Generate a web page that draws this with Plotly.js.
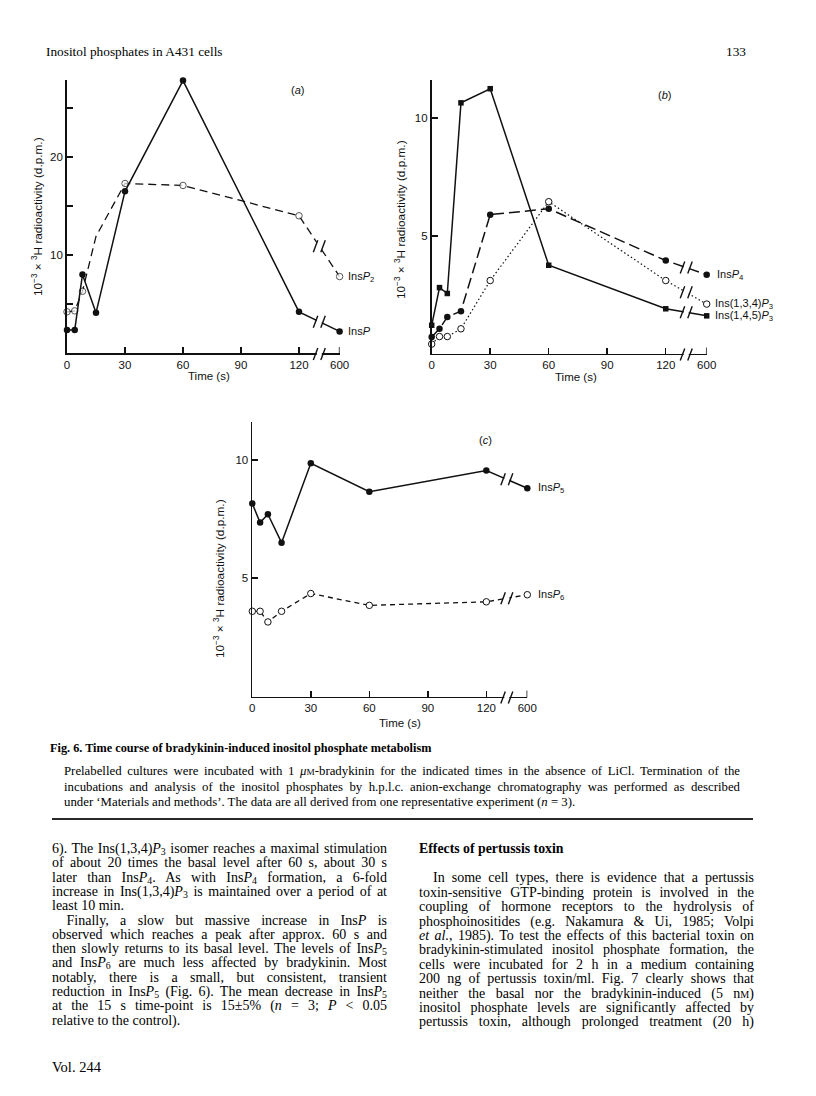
<!DOCTYPE html>
<html>
<head>
<meta charset="utf-8">
<script src="https://cdn.plot.ly/plotly-3.0.1.min.js"></script>
<style>
html,body{margin:0;padding:0;background:#fff;}
#page{position:relative;width:816px;height:1096px;overflow:hidden;font-family:"Liberation Serif","Times New Roman",serif;color:#000;}
#plot{position:absolute;left:0;top:0;width:816px;height:1096px;}
.t{position:absolute;white-space:nowrap;line-height:14px;height:14px;}
.t span{white-space:nowrap;}
sub{font-size:70%;vertical-align:-0.25em;line-height:0;}
.sc{font-size:72%;}
#rule{position:absolute;left:52px;width:701px;top:818px;height:1.6px;background:#2a2a2a;}
</style>
</head>
<body>
<div id="page">
  <div id="plot"></div>
  <div id="rule"></div>
</div>
<script>
// ---------------- data ----------------
const times      = [0, 4, 8, 15, 30, 60, 120, 600];          // s
const tickTimes  = [0, 30, 60, 90, 120, 600];
const tickLabels = ['0', '30', '60', '90', '120', '600'];

// (a)
const insP     = [2.35, 2.35, 8.0, 4.1, 16.5, 27.8, 4.2, 2.2];
const insP2    = [4.2, 4.3, 6.3, 11.9, 17.3, 17.1, 14.0, 7.8];
// (b)
const ins145P3 = [1.2, 2.8, 2.55, 10.65, 11.25, 3.75, 1.9, 1.6];
const insP4    = [0.7, 1.05, 1.55, 1.8, 5.9, 6.15, 3.95, 3.35];
const ins134P3 = [0.4, 0.72, 0.72, 1.05, 3.1, 6.45, 3.1, 2.1];
// (c)
const insP5    = [8.15, 7.35, 7.7, 6.5, 9.85, 8.65, 9.55, 8.8];
const insP6    = [3.6, 3.6, 3.15, 3.6, 4.35, 3.85, 4.0, 4.3];

// ---------------- axis mapping (broken axis 120 // 600) ----------------
const W = 816, H = 1096;
const POS600 = 141, BREAK_POS = 130.5;
function pos(t){ return t <= 120 ? t : POS600; }
const xs = times.map(pos);

const PA = {x0:67,    x1:339.6, top:80,    bottom:353,   ytop:27.86};
const PB = {x0:431.7, x1:706.7, top:80,    bottom:353.5, ytop:11.62};
const PC = {x0:252.3, x1:527.3, top:421.7, bottom:696.5, ytop:11.61};

const INK = '#111';
const SANS = 'Liberation Sans, Arial, sans-serif';

function xa(p, anchor){
  return {domain:[p.x0/W, p.x1/W], range:[0, POS600], anchor:anchor,
    showline:true, linecolor:INK, linewidth:1.8, ticks:'inside', ticklen:6, tickwidth:1.5, tickcolor:INK,
    tickvals:tickTimes.map(pos), ticktext:tickLabels, tickfont:{family:SANS, size:11.5, color:INK},
    showgrid:false, zeroline:false, fixedrange:true};
}
function ya(p, anchor, tv, tt){
  return {domain:[1 - p.bottom/H, 1 - p.top/H], range:[0, p.ytop], anchor:anchor,
    showline:true, linecolor:INK, linewidth:1.8, ticks:'inside', ticklen:6, tickwidth:1.5, tickcolor:INK,
    tickvals:tv, ticktext:tt, tickfont:{family:SANS, size:11.5, color:INK},
    showgrid:false, zeroline:false, fixedrange:true};
}

function filled(y, xr, yr, dash, sym, size){
  return {x:xs, y:y, xaxis:xr, yaxis:yr, type:'scatter', mode:'lines+markers', cliponaxis:false,
    line:{color:INK, width:1.5, dash:dash}, marker:{symbol:sym || 'circle', size:size || 6.5, color:INK}, hoverinfo:'skip'};
}
function open(y, xr, yr, dash, width, sizes){
  return {x:xs, y:y, xaxis:xr, yaxis:yr, type:'scatter', mode:'lines+markers', cliponaxis:false,
    line:{color:INK, width:width, dash:dash},
    marker:{symbol:'circle', size:sizes || 6.5, color:'#fff', line:{color:INK, width:1}}, hoverinfo:'skip'};
}

const traces = [
  open(insP2, 'x', 'y', '8px,5px', 1.3, insP2.map((v,i)=> times[i] === 15 ? 0 : 6.5)),
  filled(insP, 'x', 'y', 'solid'),
  filled(ins145P3, 'x2', 'y2', 'solid', 'square', 5.5),
  filled(insP4, 'x2', 'y2', '11px,5px'),
  open(ins134P3, 'x2', 'y2', '1.5px,2.5px', 1.2),
  filled(insP5, 'x3', 'y3', 'solid'),
  open(insP6, 'x3', 'y3', '5px,4px', 1.3)
];

// inside tick at the 600 end of each x axis (the axis' own tick there falls on the range edge)
function endTick(xr, p){
  const yb = 1 - (p.bottom + 0.9) / H, yt = 1 - (p.bottom - 6) / H;
  return {type:'line', xref:xr, yref:'paper', x0:POS600, x1:POS600, y0:yb, y1:yt, line:{color:INK, width:1.5}};
}
// break marks
function brk(xr, yr, yv){
  const base = {xref:xr, yref:yr, xsizemode:'pixel', ysizemode:'pixel', xanchor:BREAK_POS, yanchor:yv};
  return [
    Object.assign({type:'rect', x0:-2.5, x1:2.5, y0:-5, y1:5, fillcolor:'#fff', line:{width:0}}, base),
    Object.assign({type:'line', x0:-6, x1:-1.5, y0:-6, y1:6, line:{color:INK, width:1.4}}, base),
    Object.assign({type:'line', x0:1.5, x1:6, y0:-6, y1:6, line:{color:INK, width:1.4}}, base)
  ];
}
function brkAxis(xr, p){
  const yv = 1 - (p.bottom + 0.9) / H;
  const base = {xref:xr, yref:'paper', xsizemode:'pixel', ysizemode:'pixel', xanchor:BREAK_POS, yanchor:yv};
  return [
    Object.assign({type:'rect', x0:-2.5, x1:2.5, y0:-3, y1:3, fillcolor:'#fff', line:{width:0}}, base),
    Object.assign({type:'line', x0:-6, x1:-1.5, y0:-6, y1:6, line:{color:INK, width:1.4}}, base),
    Object.assign({type:'line', x0:1.5, x1:6, y0:-6, y1:6, line:{color:INK, width:1.4}}, base)
  ];
}
function yAtBreak(arr){
  const a = arr[times.indexOf(120)], b = arr[times.indexOf(600)];
  return a + (b - a) * (BREAK_POS - 120) / (POS600 - 120);
}
let shapes = [endTick('x', PA), endTick('x2', PB), endTick('x3', PC)];
shapes = shapes.concat(brkAxis('x', PA), brk('x','y',yAtBreak(insP)), brk('x','y',yAtBreak(insP2)));
shapes = shapes.concat(brkAxis('x2', PB), brk('x2','y2',yAtBreak(insP4)), brk('x2','y2',yAtBreak(ins134P3)), brk('x2','y2',yAtBreak(ins145P3)));
shapes = shapes.concat(brkAxis('x3', PC), brk('x3','y3',yAtBreak(insP5)), brk('x3','y3',yAtBreak(insP6)));

// annotations
const LF = {family:SANS, size:11, color:INK};
function seriesLabel(text, arr, xr, yr, shift){
  return {text:text, x:POS600, y:arr[arr.length-1], xref:xr, yref:yr, xanchor:'left', yanchor:'middle',
    xshift:shift, showarrow:false, font:LF};
}
function paperText(text, px, py, angle, size){
  return {text:text, x:px/W, y:1 - py/H, xref:'paper', yref:'paper', xanchor:'center', yanchor:'middle',
    showarrow:false, font:{family:SANS, size:size || 11, color:INK}, textangle:angle || 0};
}
const yTitle = '10<sup>−3</sup> × <sup>3</sup>H radioactivity (d.p.m.)';
const annotations = [
  seriesLabel('Ins<i>P</i><sub>2</sub>', insP2, 'x', 'y', 6),
  seriesLabel('Ins<i>P</i>', insP, 'x', 'y', 6),
  seriesLabel('Ins<i>P</i><sub>4</sub>', insP4, 'x2', 'y2', 8),
  seriesLabel('Ins(1,3,4)<i>P</i><sub>3</sub>', ins134P3, 'x2', 'y2', 6),
  seriesLabel('Ins(1,4,5)<i>P</i><sub>3</sub>', ins145P3, 'x2', 'y2', 6),
  seriesLabel('Ins<i>P</i><sub>5</sub>', insP5, 'x3', 'y3', 9),
  seriesLabel('Ins<i>P</i><sub>6</sub>', insP6, 'x3', 'y3', 9),
  paperText('(<i>a</i>)', 297, 90),
  paperText('(<i>b</i>)', 664, 95),
  paperText('(<i>c</i>)', 485, 440),
  paperText('Time (s)', 209, 376, 0, 11.5),
  paperText('Time (s)', 576, 377, 0, 11.5),
  paperText('Time (s)', 400, 723, 0, 11.5),
  paperText(yTitle, 37, 217, -90, 11.8),
  paperText(yTitle, 400, 220, -90, 11.8),
  paperText(yTitle, 219, 579, -90, 11.8)
];

const layout = {
  width:W, height:H, margin:{l:0, r:0, t:0, b:0},
  paper_bgcolor:'rgba(0,0,0,0)', plot_bgcolor:'rgba(0,0,0,0)',
  showlegend:false,
  xaxis:xa(PA,'y'),  yaxis:ya(PA,'x',[5,10,15,20,25],['','10','','20','']),
  xaxis2:xa(PB,'y2'), yaxis2:ya(PB,'x2',[5,10],['5','10']),
  xaxis3:xa(PC,'y3'), yaxis3:ya(PC,'x3',[5,10],['5','10']),
  shapes:shapes, annotations:annotations
};
Plotly.newPlot('plot', traces, layout, {staticPlot:true, displayModeBar:false});

// ---------------- page text ----------------
const headerLeft  = 'Inositol phosphates in A431 cells';
const headerRight = '133';
const captionTitle = 'Fig. 6. Time course of bradykinin-induced inositol phosphate metabolism';
const captionLines = [
  'Prelabelled cultures were incubated with 1 <i>μ</i><span class="sc">M</span>-bradykinin for the indicated times in the absence of LiCl. Termination of the',
  'incubations and analysis of the inositol phosphates by h.p.l.c. anion-exchange chromatography was performed as described',
  'under ‘Materials and methods’. The data are all derived from one representative experiment (<i>n</i> = 3).'
];
const leftLines = [
  '6). The Ins(1,3,4)<i>P</i><sub>3</sub> isomer reaches a maximal stimulation',
  'of about 20 times the basal level after 60 s, about 30 s',
  'later than Ins<i>P</i><sub>4</sub>. As with Ins<i>P</i><sub>4</sub> formation, a 6-fold',
  'increase in Ins(1,3,4)<i>P</i><sub>3</sub> is maintained over a period of at',
  'least 10 min.',
  'Finally, a slow but massive increase in Ins<i>P</i> is',
  'observed which reaches a peak after approx. 60 s and',
  'then slowly returns to its basal level. The levels of Ins<i>P</i><sub>5</sub>',
  'and Ins<i>P</i><sub>6</sub> are much less affected by bradykinin. Most',
  'notably, there is a small, but consistent, transient',
  'reduction in Ins<i>P</i><sub>5</sub> (Fig. 6). The mean decrease in Ins<i>P</i><sub>5</sub>',
  'at the 15 s time-point is 15±5% (<i>n</i> = 3; <i>P</i> &lt; 0.05',
  'relative to the control).'
];
const leftLast = [4, 12], leftIndent = [5];
const rightHeading = 'Effects of pertussis toxin';
const rightLines = [
  'In some cell types, there is evidence that a pertussis',
  'toxin-sensitive GTP-binding protein is involved in the',
  'coupling of hormone receptors to the hydrolysis of',
  'phosphoinositides (e.g. Nakamura &amp; Ui, 1985; Volpi',
  '<i>et al.</i>, 1985). To test the effects of this bacterial toxin on',
  'bradykinin-stimulated inositol phosphate formation, the',
  'cells were incubated for 2 h in a medium containing',
  '200 ng of pertussis toxin/ml. Fig. 7 clearly shows that',
  'neither the basal nor the bradykinin-induced (5 n<span class="sc">M</span>)',
  'inositol phosphate levels are significantly affected by',
  'pertussis toxin, although prolonged treatment (20 h)'
];
const volume = 'Vol. 244';

const page = document.getElementById('page');
const justified = [];
function addLine(html, left, cy, width, opts){
  opts = opts || {};
  const d = document.createElement('div');
  d.className = 't';
  d.style.left = left + 'px';
  d.style.top = (cy - 7) + 'px';
  d.style.fontSize = (opts.size || 14) + 'px';
  if (opts.bold) d.style.fontWeight = 'bold';
  if (opts.right) { d.style.left = ''; d.style.right = (W - left) + 'px'; }
  const s = document.createElement('span');
  s.innerHTML = html;
  d.appendChild(s);
  page.appendChild(d);
  if (width) justified.push({span:s, width:width});
  return d;
}

addLine(headerLeft, 46, 52, 0, {size:13.3});
addLine(headerRight, 746, 52, 0, {size:13.3, right:true});
addLine(captionTitle, 50, 748, 0, {size:12.25, bold:true});
captionLines.forEach((l, i) => addLine(l, 64, 771 + i*15.5, i < captionLines.length - 1 ? 676 : 0, {size:12.8}));

leftLines.forEach((l, i) => {
  const ind = leftIndent.includes(i) ? 14.5 : 0;
  const last = leftLast.includes(i);
  addLine(l, 52 + ind, 849 + i*14.3, last ? 0 : 335 - ind, {size:14});
});
addLine(rightHeading, 419, 849.3, 0, {size:13.8, bold:true});
rightLines.forEach((l, i) => {
  const ind = i === 0 ? 14 : 0;
  addLine(l, 419 + ind, 878.3 + i*14.4, 335 - ind, {size:14});
});
addLine(volume, 52, 1066.5, 0, {size:14.5});

function justify(){
  justified.forEach(o => {
    o.span.style.wordSpacing = '0px';
    const nat = o.span.getBoundingClientRect().width;
    const spaces = (o.span.textContent.match(/ /g) || []).length;
    if (spaces > 0) o.span.style.wordSpacing = ((o.width - nat) / spaces) + 'px';
  });
}
justify();
if (document.fonts && document.fonts.ready) document.fonts.ready.then(justify);
</script>
</body>
</html>
